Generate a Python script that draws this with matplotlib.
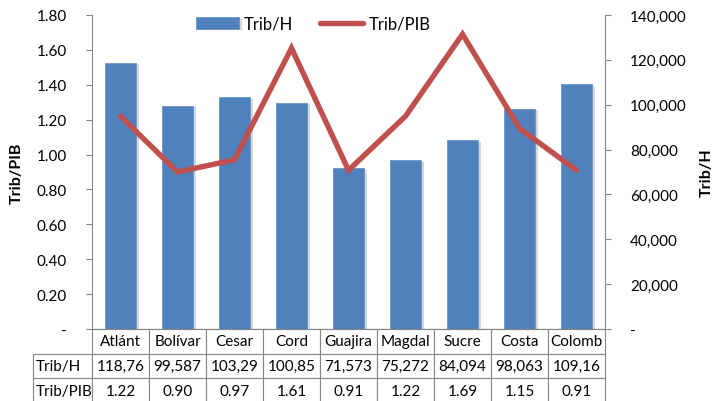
import numpy as np
import matplotlib
matplotlib.use("Agg")
import matplotlib.pyplot as plt
import matplotlib.patheffects as pe
from matplotlib.table import Table
from matplotlib.ticker import FixedLocator, FuncFormatter

#=================================
# Data
#=================================
regions = ["Atlánt", "Bolívar", "Cesar", "Cord", "Guajira", "Magdal", "Sucre", "Costa", "Colomb"]
trib_h = [118760, 99587, 103290, 100850, 71573, 75272, 84094, 98063, 109160]
trib_pib = [1.22, 0.90, 0.97, 1.61, 0.91, 1.22, 1.69, 1.15, 0.91]
# table text as shown (Excel cuts the wide numbers)
trib_h_text = ["118,76", "99,587", "103,29", "100,85", "71,573", "75,272", "84,094", "98,063", "109,16"]

bar_color = "#4F81BD"
line_color = "#C0504D"
axis_gray = "#868686"

plt.rcParams['font.family'] = ['Lato', 'DejaVu Sans']

fig = plt.figure(figsize=(7.13, 4.02), dpi=100)
ax = fig.add_axes([92/713, 72/402, 513/713, 314/402])
ax2 = ax.twinx()
x = np.arange(len(regions))

# bars on the right axis (Trib/H)
bars = ax2.bar(x, trib_h, width=0.56, color=bar_color, edgecolor="#6A94C9", linewidth=0.6,
               label="Trib/H")
for b in bars:
    b.set_path_effects([pe.SimplePatchShadow(offset=(2, -1), alpha=0.18), pe.Normal()])
ax2.set_ylim(0, 140000)
ax2.yaxis.set_major_locator(FixedLocator(np.arange(0, 140001, 20000)))
ax2.yaxis.set_major_formatter(FuncFormatter(lambda v, p: "-" if v == 0 else "{:,.0f}".format(v)))

# line on the left axis (Trib/PIB), drawn above the bars
line, = ax.plot(x, trib_pib, color=line_color, linewidth=3.9, solid_joinstyle="miter",
                solid_capstyle="round", label="Trib/PIB")
ax.set_zorder(ax2.get_zorder() + 1)
ax.patch.set_visible(False)
ax.set_ylim(0, 1.8)
ax.yaxis.set_major_locator(FixedLocator(np.arange(0, 1.81, 0.2)))
ax.yaxis.set_major_formatter(FuncFormatter(lambda v, p: "-" if abs(v) < 1e-9 else "{:.2f}".format(v)))
ax.set_xlim(-0.5, len(regions) - 0.5)
ax.set_xticks([])

# axis styling
for a in (ax, ax2):
    for s in a.spines.values():
        s.set_color(axis_gray)
        s.set_linewidth(0.8)
    a.spines["top"].set_visible(False)
ax.spines["right"].set_visible(False)
ax2.spines["left"].set_visible(False)
ax.tick_params(axis="y", length=4, color=axis_gray, labelsize=11, pad=14)
ax2.tick_params(axis="y", length=4, color=axis_gray, labelsize=11, pad=14)

ax.set_ylabel("Trib/PIB", fontsize=11.5, fontweight="bold", labelpad=9)
ax2.set_ylabel("Trib/H", fontsize=11.5, fontweight="bold", labelpad=9)

#=================================
# Data table below the plot (built cell by cell)
#=================================
ncols = len(regions)
col_w = 1.0 / ncols
lab_w = col_w * 59 / 57
row_h = 1.0 / 3
rows = [("Trib/H", trib_h_text), ("Trib/PIB", ["{:.2f}".format(v) for v in trib_pib])]

tbl = Table(ax, bbox=[-59/513, -74/314, 572/513, 74/314])
for j, name in enumerate(regions):
    tbl.add_cell(0, j + 1, col_w, row_h, text=name, loc="center")
for i, (label, vals) in enumerate(rows):
    tbl.add_cell(i + 1, 0, lab_w, row_h, text=label, loc="left")
    for j, v in enumerate(vals):
        tbl.add_cell(i + 1, j + 1, col_w, row_h, text=v, loc="center")
tbl.auto_set_font_size(False)
tbl.set_fontsize(11)
for (r, c), cell in tbl.get_celld().items():
    cell.set_edgecolor(axis_gray)
    cell.set_linewidth(0.8)
    if c == 0:
        cell.PAD = 0.04
ax.add_table(tbl)

# legend at the top
fig.legend(handles=[bars, line], labels=["Trib/H", "Trib/PIB"], loc="center", ncol=2,
           bbox_to_anchor=(313/713, 1 - 25/402), frameon=False, fontsize=12,
           handlelength=2.6, columnspacing=1.6, handletextpad=0.3)

fig.savefig("out.png", dpi=100)
